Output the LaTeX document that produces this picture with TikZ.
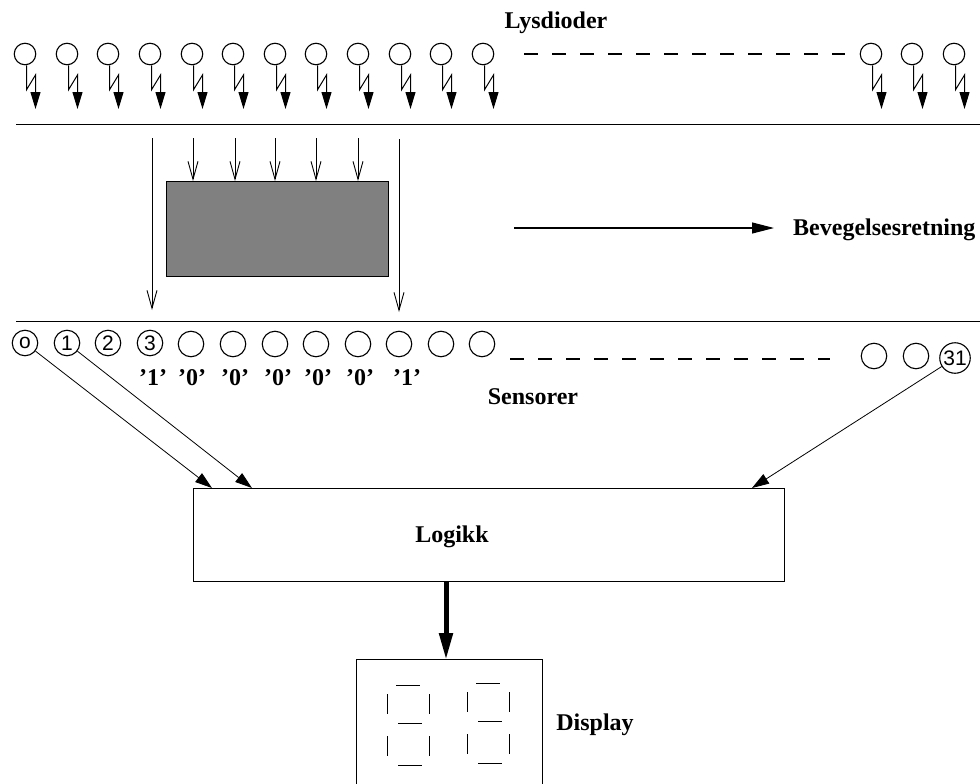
\documentclass[tikz,border=0pt]{standalone}
\usepackage{fontspec}
\setmainfont{Liberation Serif}
\setsansfont{Liberation Sans}
\usetikzlibrary{arrows.meta}
\tikzset{
  lamp/.style={draw, circle, inner sep=0pt, minimum size=21.5pt, line width=1.1pt},
  sensor/.style={draw, circle, inner sep=0pt, minimum size=25.5pt, line width=1.1pt, font=\sffamily\fontsize{21}{21}\selectfont},
  boks/.style={draw, rectangle, inner sep=0pt, line width=0.9pt},
  tekst/.style={inner sep=0pt, font=\bfseries\fontsize{24}{24}\selectfont},
  smal/.style={line width=0.9pt, -{Straight Barb[length=18pt,width=10pt]}},
  fet/.style={line width=0.8pt, -{Triangle[length=17pt,width=11pt]}},
  streker/.style={line width=1.1pt, dash pattern=on 14pt off 14pt},
  segment/.style={line width=1pt}
}
\begin{document}
\begin{tikzpicture}[x=1pt, y=-1pt]
\useasboundingbox (0,0) rectangle (980,784);

%Lysdioder
\node[tekst] (lysdioder) at (556,23) {Lysdioder};
\foreach \nr/\xpos in {0/25,1/67,2/108,3/150,4/192,5/233,6/275,7/316,8/358,9/400,10/441,11/483,12/871,13/912,14/954}
{
  \node[lamp] (d\nr) at (\xpos,54) {};
  \coordinate (knekk\nr) at (\xpos+10.5,75);
  \draw[line width=1pt, -{Triangle[length=17pt,width=10pt]}] (d\nr.south) ++(1.5,0) -- ++(0,24.5) -- (knekk\nr) -- ++(0,34);
}
\coordinate (prikk1) at (524,54);
\coordinate (prikk2) at (845,54);
\draw[streker] (prikk1) -- (prikk2);

%skiller
\coordinate (vo) at (16,124);
\coordinate (ho) at (980,124);
\coordinate (vn) at (16,321);
\coordinate (hn) at (980,321);
\draw[line width=0.9pt] (vo) -- (ho);
\draw[line width=0.9pt] (vn) -- (hn);

%Objekt
\node[boks, fill=black!50, minimum width=222pt, minimum height=95pt] (objekt) at (277,228.5) {};
\foreach \xpos in {193,235,275,316,358}
{
  \coordinate (start\xpos) at (\xpos,138);
  \draw[smal] (start\xpos) -- (\xpos,181);
}
\coordinate (lang1) at (152,138);
\coordinate (lang1n) at (152,310);
\coordinate (lang2) at (399,139);
\coordinate (lang2n) at (399,312);
\draw[smal] (lang1) -- (lang1n);
\draw[smal] (lang2) -- (lang2n);

%retning
\node[tekst, anchor=west] (retning) at (793,230) {Bevegelsesretning};
\coordinate (pil) at (514,228);
\draw[line width=1.1pt, -{Triangle[length=22pt,width=11pt]}] (pil) -- (774,228);

%Sensorer
\node[sensor] (s0) at (25,343) {o};
\node[sensor] (s1) at (67,343) {1};
\node[sensor] (s2) at (108,343) {2};
\node[sensor] (s3) at (150,343) {3};
\foreach \nr/\xpos in {4/191,5/233,6/275,7/316,8/358,9/399,10/441,11/482}
{
  \node[sensor] (s\nr) at (\xpos,344) {};
}
\node[sensor] (s12) at (874,356) {};
\node[sensor] (s13) at (916,356) {};
\node[sensor, minimum size=30.5pt] (s31) at (955,358) {31};
\coordinate (prikk3) at (510,359);
\coordinate (prikk4) at (830,359);
\draw[streker] (prikk3) -- (prikk4);
\foreach \verdi/\xpos in {1/153,0/192,0/235,0/278,0/318,0/360,1/407}
{
  \node[tekst] at (\xpos,378) {'\verdi'};
}
\node[tekst] (sensorer) at (533,397) {Sensorer};

%Logikk
\node[boks, minimum width=591pt, minimum height=93pt] (logikk) at (488.5,534.5) {};
\node[tekst] (logikktekst) at (452,537) {Logikk};
\coordinate (inn0) at (212,488);
\coordinate (inn1) at (252,488);
\coordinate (inn31) at (752,488);
\draw[fet] (s0) -- (inn0);
\draw[fet] (s1) -- (inn1);
\draw[fet] (s31) -- (inn31);

%Display
\node[boks, minimum width=186pt, minimum height=135pt, anchor=north] (display) at (449,659) {};
\node[tekst] (displaytekst) at (595,725) {Display};
\coordinate (ut) at (446,581);
\coordinate (inn) at (446,660);
\draw[line width=5pt, -{Triangle[length=27pt,width=13pt]}] (ut) -- (inn);

%siffer
\foreach \xpos/\ypos in {387/694,467/692}
{
  \draw[segment] (\xpos+9,\ypos-9) -- ++(24,0);
  \draw[segment] (\xpos,\ypos) -- ++(0,20);
  \draw[segment] (\xpos+42,\ypos) -- ++(0,20);
  \draw[segment] (\xpos+11,\ypos+29) -- ++(24,0);
  \draw[segment] (\xpos,\ypos+42) -- ++(0,20);
  \draw[segment] (\xpos+42,\ypos+42) -- ++(0,20);
  \draw[segment] (\xpos+11,\ypos+71) -- ++(24,0);
}
\end{tikzpicture}
\end{document}
